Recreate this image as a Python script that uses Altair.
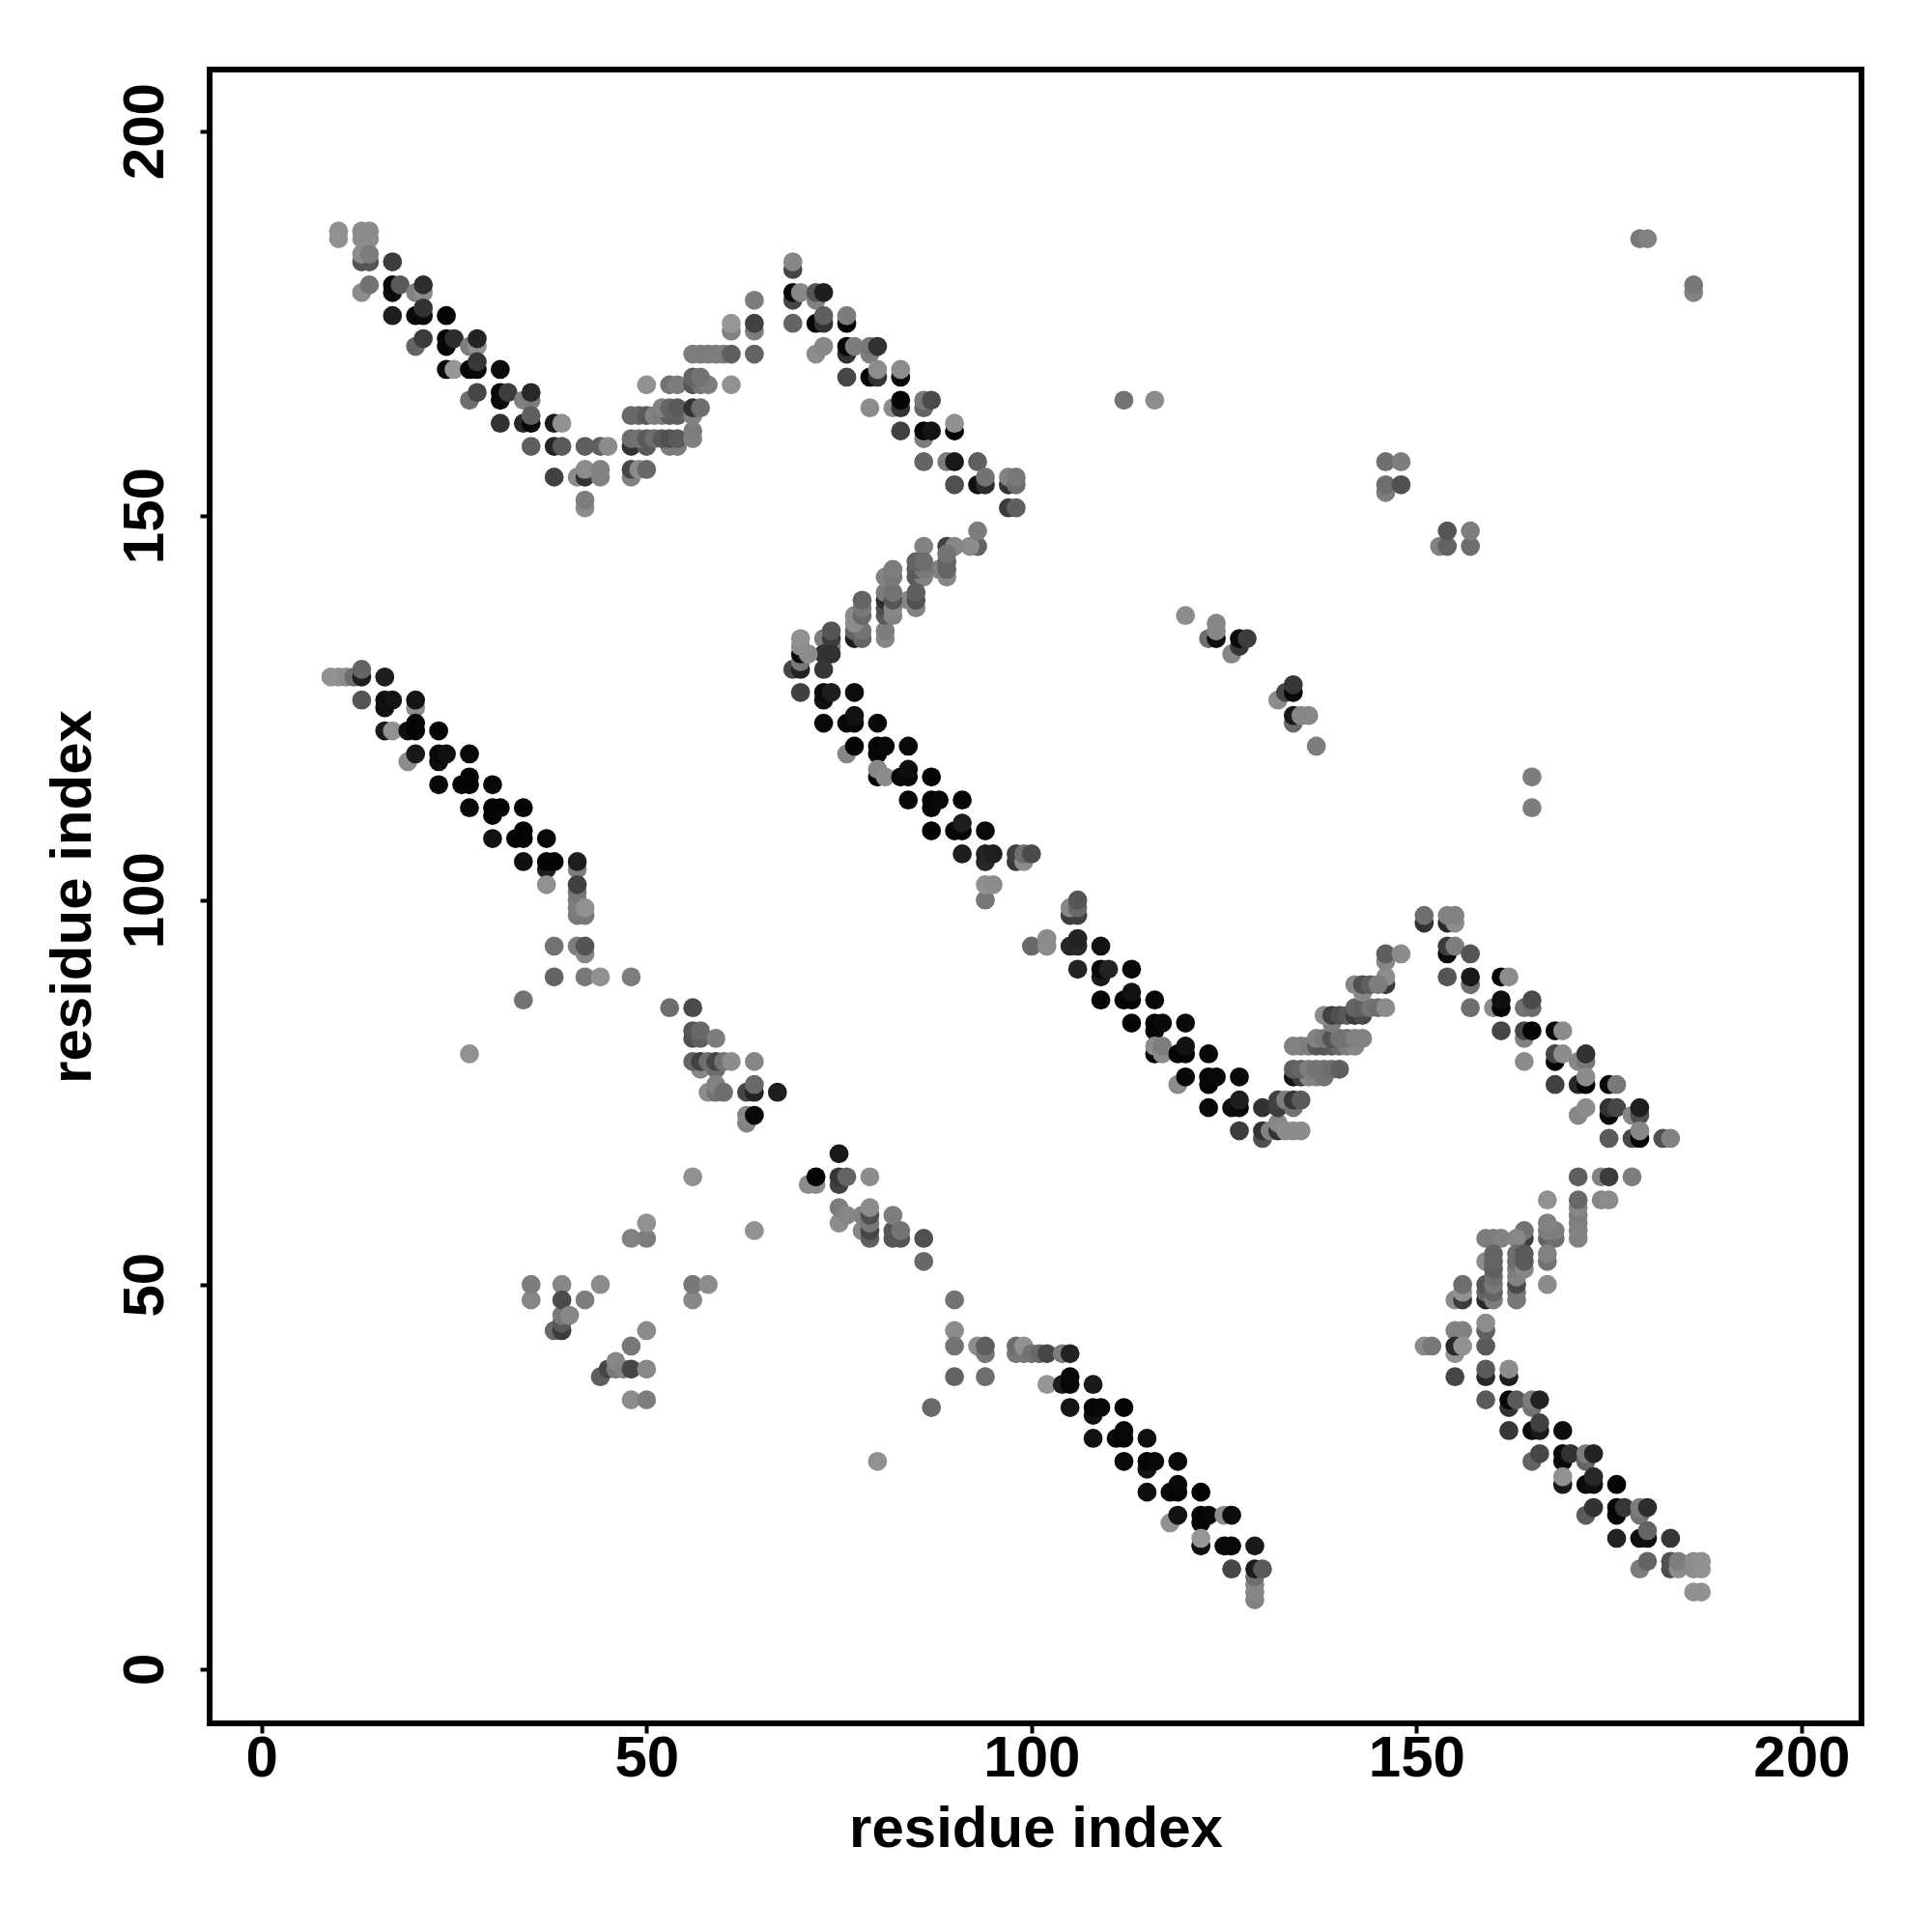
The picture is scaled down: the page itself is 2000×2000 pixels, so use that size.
import altair as alt
import pandas as pd

# (residue i, residue j, grey level of the dot)
arm_top_left = [
    (10,187,145),(10,186,145),(13,187,140),(14,187,140),(13,186,140),(14,186,140),
    (13,183,85),(14,183,85),(13,184,140),(14,184,125),(17,183,60),
    (13,179,140),(14,180,115),(17,179,12),(17,180,8),(18,180,90),(20,179,130),(21,179,140),(21,180,45),
    (17,176,30),(20,176,10),(21,176,10),(24,176,5),(21,177,50),
    (20,172,100),(21,173,60),(24,172,5),(24,173,5),(25,173,45),(27,172,125),(28,172,145),(28,173,35),
    (24,169,10),(25,169,150),(27,169,5),(28,169,8),(28,170,55),(31,169,12),
    (27,165,110),(28,166,70),(31,165,10),(31,166,10),(32,166,60),(34,165,130),(35,165,125),(35,166,40),
    (31,162,50),(34,162,40),(35,162,8),(35,163,95),(38,162,25),(39,162,145),
    (35,159,95),(38,159,35),(39,159,90),(42,159,95),(44,159,95),(45,159,140),
    (38,155,65),(41,155,140),(42,155,50),(42,156,140),(44,155,130),(44,156,130),
    (42,151,140),(42,152,125),
]
rise_top_left = [
    (48,155,130),(48,156,70),(49,156,140),(50,156,105),
    (48,159,50),(50,159,90),(53,159,125),(54,159,125),
    (48,160,110),(49,160,115),(50,160,90),(51,160,110),(52,160,90),(53,160,80),(54,160,90),
    (56,160,130),(56,161,125),
    (48,163,105),(49,163,105),(50,163,90),(51,163,130),(52,163,125),(53,163,95),(54,163,95),
    (52,164,130),(53,164,100),(54,164,90),(56,163,130),(56,164,50),(57,164,110),
    (50,167,145),(53,167,115),(54,167,125),(56,167,85),(57,167,115),(58,167,125),(61,167,145),
    (56,168,100),(57,168,115),
    (56,171,125),(57,171,125),(58,171,125),(59,171,125),(60,171,125),(61,171,95),(64,171,100),
    (61,174,130),(61,175,150),(64,174,125),(64,175,65),(64,178,125),
]
arm_top_mid = [
    (69,182,70),(69,183,135),
    (69,178,70),(69,179,8),(70,179,135),(72,178,130),(72,179,85),(73,179,30),
    (69,175,100),(72,175,5),(73,175,50),(73,176,95),(76,175,5),(76,176,125),
    (72,171,140),(73,172,135),(76,171,50),(76,172,5),(77,172,125),(79,171,125),(79,172,120),(80,172,50),
    (76,168,70),(79,168,5),(80,168,50),(80,169,140),(83,168,8),(83,169,140),
    (79,164,140),(82,164,140),(83,164,50),(83,165,5),(86,164,100),(86,165,120),(87,165,75),
    (83,161,65),(86,160,125),(86,161,8),(87,161,20),(90,161,5),(90,162,145),
    (86,157,100),(89,157,125),(90,157,25),(93,157,95),
    (90,154,80),(93,154,15),(94,154,45),(94,155,115),(97,154,50),(97,155,130),(98,154,110),(98,155,120),
    (97,151,60),(98,151,95),
]
rise_mid_upper = [
    (93,146,100),(92,146,140),(93,148,125),(89,146,65),(90,146,135),(86,146,130),
    (89,142,135),(88,143,130),(89,143,100),(89,144,100),(89,145,115),
    (85,142,90),(86,142,130),(85,143,90),(86,143,120),(85,144,100),(86,144,110),
    (85,138,130),(84,139,135),(85,139,80),(85,140,95),
    (81,134,135),(81,135,125),(81,137,90),(81,138,80),(81,139,45),(81,140,125),(81,142,130),
    (82,137,130),(82,138,135),(82,139,85),(82,140,115),(82,142,120),(82,143,125),
    (77,134,30),(78,134,100),(77,135,100),(78,135,115),(77,136,140),(77,137,140),(78,137,105),(78,138,120),(78,139,100),
    (73,134,125),(74,133,130),(74,134,60),(74,135,85),(73,132,50),(74,132,50),
]
arm_upper_mid = [
    (69,130,70),(70,130,35),(70,131,120),(70,132,10),(70,133,140),(70,134,145),(71,132,140),(73,130,55),
    (70,127,65),(73,126,15),(73,127,12),(74,127,30),(77,127,12),
    (73,123,8),(76,123,8),(77,123,8),(77,124,18),(80,123,8),
    (76,119,135),(77,120,5),(80,119,5),(80,120,5),(81,120,8),(84,120,10),
    (80,116,5),(80,117,135),(81,116,140),(83,116,8),(84,116,8),(84,117,15),(87,116,5),
    (84,113,8),(87,112,5),(87,113,5),(88,113,8),(91,113,8),
    (87,109,5),(90,109,8),(91,109,5),(91,110,30),(94,109,10),
    (91,106,30),(94,105,40),(94,106,35),(95,106,30),(98,105,55),(98,106,65),(99,105,140),(99,106,110),(100,106,75),
    (94,100,120),(94,102,145),(95,102,140),
    (105,98,60),(106,98,65),(105,99,135),(106,99,105),(106,100,85),
    (100,94,105),(102,94,140),(102,95,140),(105,94,40),(106,94,40),(106,95,35),(109,94,18),
    (106,91,35),(109,90,25),(109,91,8),(110,91,35),(113,91,8),
    (109,87,5),(112,87,5),(113,87,5),(113,88,18),(116,87,8),
    (113,84,5),(116,83,5),(116,84,5),(117,84,8),(120,84,10),
    (116,80,5),(116,81,140),(117,80,140),(117,81,125),(119,80,5),(120,80,5),(120,81,18),(123,80,8),
    (119,76,140),(120,77,8),(123,76,5),(123,77,5),(124,77,8),(127,77,8),
    (123,73,8),(126,73,12),(127,73,8),(127,74,30),(130,73,50),
    (127,70,60),(130,69,80),(130,70,50),(131,70,130),(132,70,50),(132,71,135),(133,70,140),(134,70,140),(135,70,140),
    (132,73,60),(132,74,65),(133,74,125),(134,73,115),(134,74,55),(135,74,90),
]
rise_mid_lower = [
    (134,77,20),(135,77,60),(136,77,135),(137,77,130),(138,77,115),
    (134,78,95),(135,78,100),(136,78,125),(137,78,115),(138,78,115),(139,78,110),(140,78,95),
    (134,81,130),(135,81,130),(136,81,125),(137,81,90),(138,81,85),(139,81,90),(140,81,105),(141,81,125),(142,81,135),
    (137,82,130),(138,82,120),(139,82,85),(140,82,115),(141,82,115),(142,82,130),(143,82,130),
    (139,84,125),(138,85,140),(139,85,65),(140,85,80),(141,85,90),
    (142,85,60),(143,85,75),(142,86,100),(143,86,95),(144,86,115),(145,86,110),(146,86,140),
    (143,88,135),(146,89,60),(146,90,140),(142,89,135),(143,89,80),(144,89,95),(145,89,125),
    (146,92,135),(146,93,95),(148,93,140),
]
arm_lower_right = [
    (151,97,50),(151,98,110),(154,97,40),(155,97,140),(154,98,130),(155,98,130),
    (154,93,10),(154,94,60),(155,94,125),(157,93,85),
    (154,90,85),(157,89,110),(157,90,25),(161,90,5),(162,90,140),
    (157,86,110),(160,86,140),(161,86,5),(161,87,15),(164,86,115),(165,86,110),(165,87,75),
    (161,83,70),(164,82,130),(164,83,70),(165,83,5),(168,83,8),(169,83,140),
    (164,79,140),(168,79,5),(168,80,70),(169,80,140),(171,79,135),(172,79,120),(172,80,50),
    (168,76,65),(171,76,40),(172,76,5),(172,77,140),(175,76,8),(176,76,120),
    (171,72,135),(172,73,140),(175,72,10),(175,73,50),(176,73,70),(178,72,135),(179,72,80),(179,73,30),
    (175,69,90),(178,69,70),(179,69,5),(179,70,135),(182,69,80),(183,69,130),
]
rise_lower_right = [
    (171,64,95),(174,64,130),(175,64,60),(178,64,125),
    (167,61,145),(174,61,135),(175,61,140),
    (171,56,130),(171,57,130),(171,58,130),(171,59,125),(171,60,135),(171,61,105),
    (167,56,100),(168,56,110),(167,57,125),(168,57,125),(167,58,130),(167,53,115),(167,54,130),(167,50,140),
    (164,56,60),(164,57,115),(163,56,135),(159,56,125),(160,56,125),(161,56,130),
    (159,48,40),(159,49,100),(159,50,85),(159,53,140),
    (160,48,125),(160,49,100),(160,50,120),(160,51,110),(160,52,95),(160,53,100),(160,54,100),
    (163,48,120),(163,49,120),(163,50,75),(163,51,130),(163,52,125),(163,53,110),(163,54,110),
    (164,52,135),(164,53,90),(164,54,90),
    (155,48,140),(156,48,60),(156,49,145),(156,50,110),
    (155,44,130),(156,44,130),(151,42,140),(152,42,120),(155,41,145),(155,42,40),(156,42,145),
    (159,42,90),(159,44,95),(159,45,140),
]
arm_bottom_right = [
    (155,38,70),(159,38,40),(159,39,90),(162,38,30),(162,39,140),
    (159,35,90),(162,34,50),(162,35,5),(163,35,90),(165,34,115),(165,35,125),(166,35,35),
    (162,31,55),(165,31,8),(166,31,25),(166,32,65),(169,31,12),
    (165,27,100),(166,28,70),(169,27,8),(169,28,8),(170,28,50),(172,27,100),(172,28,125),(173,28,35),
    (169,24,25),(169,25,145),(172,24,8),(173,24,15),(173,25,40),(176,24,5),
    (172,20,90),(173,21,50),(176,20,8),(176,21,5),(177,21,55),(179,20,115),(179,21,125),(180,21,45),
    (176,17,35),(179,17,15),(180,17,15),(180,18,100),(183,17,55),
    (179,13,125),(180,14,100),(183,13,75),(183,14,80),(184,13,140),(184,14,125),(186,13,140),(187,13,145),(186,14,140),(187,14,145),
    (186,10,145),(187,10,145),
]
arm_bottom_mid = [
    (93,42,140),(94,41,120),(94,42,95),(94,38,110),
    (98,41,120),(98,42,110),(99,41,120),(99,42,145),(100,41,115),(101,41,105),(102,41,70),(104,41,125),(105,41,35),
    (102,37,150),(104,37,30),(105,37,8),(105,38,8),(108,37,25),
    (105,34,22),(108,33,18),(108,34,5),(109,34,8),(112,34,5),
    (108,30,18),(111,30,10),(112,30,5),(112,31,8),(115,30,15),
    (112,27,10),(115,26,20),(115,27,5),(116,27,8),(119,27,8),
    (115,23,15),(118,23,8),(119,23,5),(119,24,8),(122,23,5),
    (118,19,145),(119,20,18),(122,19,5),(122,20,5),(123,20,8),(125,20,140),(126,20,12),
    (122,16,15),(122,17,150),(125,16,10),(126,16,8),(129,16,25),
    (126,13,70),(129,9,130),(129,10,135),(129,11,135),(129,12,110),(129,13,30),(130,13,90),
]
arm_lower_left = [
    (9,129,145),(10,129,145),(11,129,140),(12,129,110),(13,129,30),(13,130,100),(16,129,30),
    (13,126,85),(16,125,15),(16,126,15),(17,126,20),(20,125,140),(20,126,20),
    (16,122,25),(17,122,145),(19,122,15),(20,122,5),(20,123,5),(23,122,5),
    (19,118,140),(20,119,25),(23,118,12),(23,119,8),(24,119,15),(27,119,8),
    (23,115,8),(26,115,5),(27,115,5),(27,116,5),(30,115,8),
    (27,112,8),(30,111,5),(30,112,5),(31,112,5),(34,112,5),
    (30,108,18),(33,108,5),(34,108,5),(34,109,5),(37,108,8),
    (34,105,15),(37,104,30),(37,105,5),(38,105,5),(41,104,125),(41,105,30),
    (37,102,145),(41,98,120),(42,98,120),(41,99,125),(41,100,125),(41,101,120),(41,102,65),(42,99,145),
    (38,94,115),(41,94,125),(42,93,135),(42,94,85),
    (38,90,100),(42,90,120),(44,90,145),(48,90,125),
    (34,87,115),(27,80,145),
]
middle_cluster = [
    (53,86,110),(56,86,75),
    (56,82,80),(56,83,85),(57,82,95),(57,83,105),(59,82,125),
    (57,78,135),(59,78,110),(56,79,100),(57,79,65),(58,79,110),(59,79,70),(60,79,115),(61,79,140),(64,79,135),
    (58,75,140),(59,75,115),(59,76,130),(60,75,110),
    (63,75,70),(64,75,35),(64,76,105),(67,75,30),
    (63,71,130),(63,72,135),(64,72,8),
    (71,63,140),(72,63,140),(72,64,5),(75,63,65),(75,64,55),(76,64,100),(75,67,25),(79,64,140),
    (75,58,140),(75,60,125),(76,59,135),(78,57,135),(78,59,130),
    (79,56,95),(79,57,70),(79,58,120),(79,59,80),(79,60,140),
    (82,56,85),(82,57,85),(82,59,125),(83,56,85),(83,57,115),(86,56,80),(86,53,105),
    (90,48,115),(90,44,140),(90,42,115),(90,38,100),(87,34,105),(80,27,145),
]
bottom_left_cluster = [
    (35,48,135),(35,50,125),(39,50,135),(38,44,105),(39,44,60),(39,45,90),(39,46,120),(39,48,75),(40,46,135),
    (42,48,125),(44,50,140),
    (44,38,95),(45,39,70),(46,39,120),(46,40,135),(47,39,130),(48,39,70),(48,42,120),(50,39,135),(50,44,140),
    (48,35,140),(50,35,125),
    (48,56,130),(50,56,125),(50,58,145),(56,48,135),(56,50,120),(58,50,140),(56,64,145),(64,57,145),
]
isolated_contacts = [
    (112,165,115),(116,165,140),(146,153,125),(146,154,110),(148,154,80),(146,157,110),(148,157,125),
    (153,146,130),(154,146,100),(157,146,110),(154,148,85),(157,148,125),
    (120,137,140),(123,134,110),(124,134,15),(124,135,135),(124,136,135),(126,132,135),
    (127,133,55),(127,134,8),(128,134,60),
    (132,126,140),(133,127,70),(134,127,8),(134,128,55),(134,123,105),(134,124,25),(135,124,135),(136,124,135),(137,120,125),
    (165,116,125),(165,112,125),
    (179,186,120),(180,186,130),(186,179,130),(186,180,120),
]

groups = [
    arm_top_left, rise_top_left, arm_top_mid, rise_mid_upper, arm_upper_mid,
    rise_mid_lower, arm_lower_right, rise_lower_right, arm_bottom_right,
    arm_bottom_mid, arm_lower_left, middle_cluster, bottom_left_cluster, isolated_contacts,
]
rows = [p for g in groups for p in g]
df = pd.DataFrame(rows, columns=["i", "j", "grey"])
df["colour"] = ["#%02x%02x%02x" % (g, g, g) for g in df["grey"]]
df["seq"] = range(len(df))

FONT = "Liberation Sans"
tick_values = [0, 50, 100, 150, 200]

chart = (
    alt.Chart(df)
    .mark_circle(size=390, opacity=1)
    .encode(
        x=alt.X(
            "i:Q",
            title="residue index",
            scale=alt.Scale(domain=[-6.75, 207.8], nice=False, zero=False),
            axis=alt.Axis(values=tick_values, format="d", labelPadding=-3, titlePadding=14),
        ),
        y=alt.Y(
            "j:Q",
            title="residue index",
            scale=alt.Scale(domain=[-7.07, 208.0], nice=False, zero=False),
            axis=alt.Axis(values=tick_values, format="d", labelAngle=270, labelAlign="center",
                          labelBaseline="bottom", labelPadding=26, titlePadding=14),
        ),
        color=alt.Color("colour:N", scale=None),
        order=alt.Order("seq:Q"),
    )
    .properties(
        width=1710,
        height=1712,
        autosize=alt.AutoSizeParams(type="none"),
        padding={"left": 209, "top": 64, "right": 60, "bottom": 200},
    )
    .configure_view(stroke="black", strokeWidth=6, fill="white")
    .configure_axis(
        grid=False,
        domain=False,
        tickColor="black",
        tickSize=10,
        tickWidth=4,
        labelFont=FONT,
        labelFontWeight="bold",
        labelFontSize=60,
        labelColor="black",
        titleFont=FONT,
        titleFontWeight="bold",
        titleFontSize=60,
        titleColor="black",
    )
)
chart.save("out.html", embed_options={"renderer": "svg", "actions": False})
